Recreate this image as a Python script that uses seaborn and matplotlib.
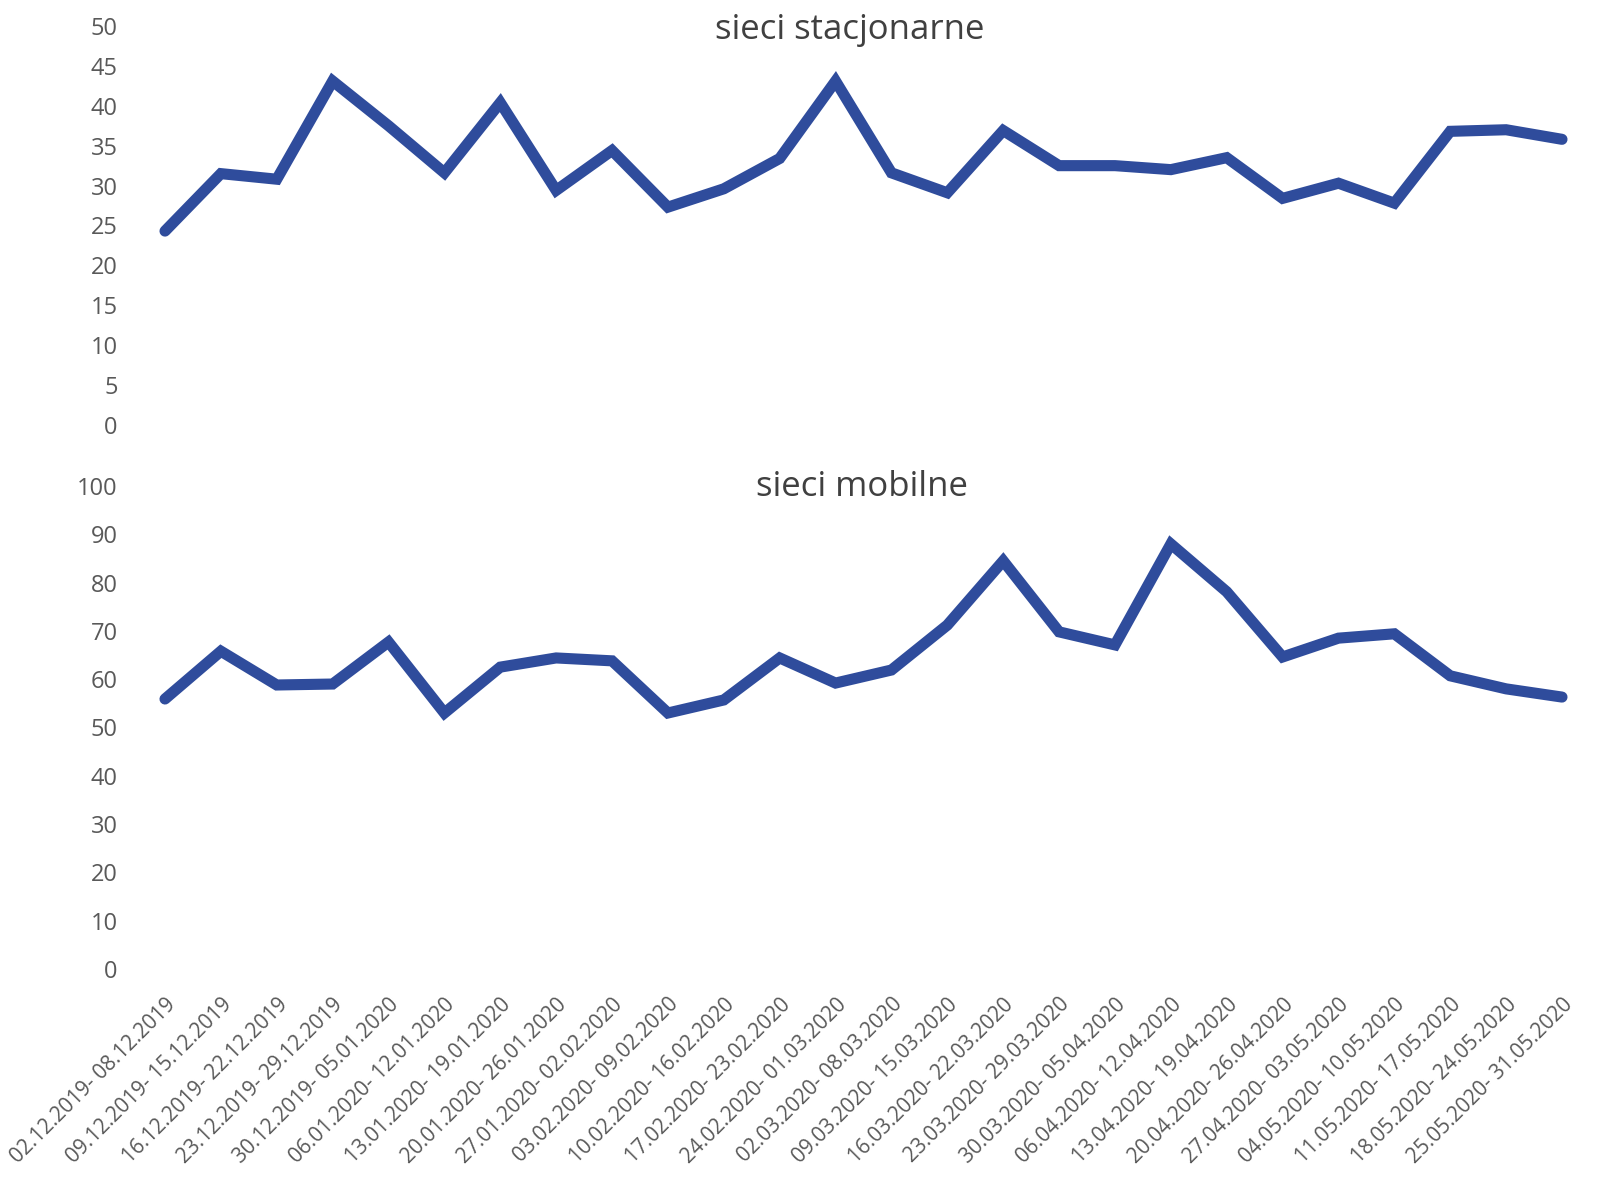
import pandas as pd
import matplotlib.pyplot as plt
import seaborn as sns
import numpy as np

# =============================================================================
# DATA - weekly values
# =============================================================================
weeks = [
    "02.12.2019- 08.12.2019", "09.12.2019- 15.12.2019", "16.12.2019- 22.12.2019",
    "23.12.2019- 29.12.2019", "30.12.2019- 05.01.2020", "06.01.2020- 12.01.2020",
    "13.01.2020- 19.01.2020", "20.01.2020- 26.01.2020", "27.01.2020- 02.02.2020",
    "03.02.2020- 09.02.2020", "10.02.2020- 16.02.2020", "17.02.2020- 23.02.2020",
    "24.02.2020- 01.03.2020", "02.03.2020- 08.03.2020", "09.03.2020- 15.03.2020",
    "16.03.2020- 22.03.2020", "23.03.2020- 29.03.2020", "30.03.2020- 05.04.2020",
    "06.04.2020- 12.04.2020", "13.04.2020- 19.04.2020", "20.04.2020- 26.04.2020",
    "27.04.2020- 03.05.2020", "04.05.2020- 10.05.2020", "11.05.2020- 17.05.2020",
    "18.05.2020- 24.05.2020", "25.05.2020- 31.05.2020",
]

stacjonarne = [24.3, 31.5, 30.8, 43.1, 37.5, 31.6, 40.4, 29.4, 34.4, 27.3,
               29.6, 33.4, 43.1, 31.6, 29.1, 36.9, 32.5, 32.5, 32.0, 33.5,
               28.4, 30.3, 27.8, 36.8, 37.0, 35.8]

mobilne = [55.9, 65.8, 58.8, 59.0, 67.7, 53.0, 62.5, 64.4, 63.8, 53.0,
           55.7, 64.4, 59.2, 61.9, 71.2, 84.5, 69.8, 67.1, 88.0, 78.1,
           64.6, 68.5, 69.4, 60.7, 58.0, 56.3]

# =============================================================================
# STYLE
# =============================================================================
sns.set_style('white')
plt.rcParams['font.family'] = ['Open Sans', 'DejaVu Sans']

LINE_COLOR = '#2f4c9c'
TICK_COLOR = '#595959'
TITLE_COLOR = '#404040'

W, H = 1606, 1181
fig = plt.figure(figsize=(W / 100, H / 100), dpi=100)

x_left = 165 / W
x_width = (1562 - 165) / W

# top panel: fixed-line networks
ax1 = fig.add_axes([x_left, 1 - 425 / H, x_width, (425 - 26) / H])
# bottom panel: mobile networks
ax2 = fig.add_axes([x_left, 1 - 969 / H, x_width, (969 - 486) / H])

df_top = pd.DataFrame({'week': weeks, 'value': stacjonarne})
df_bot = pd.DataFrame({'week': weeks, 'value': mobilne})

for ax, df, ymax, step, title, title_x, title_y in [
    (ax1, df_top, 50, 5, 'sieci stacjonarne', 850, 30),
    (ax2, df_bot, 100, 10, 'sieci mobilne', 862, 487),
]:
    sns.lineplot(data=df, x='week', y='value', sort=False, ax=ax,
                 color=LINE_COLOR, linewidth=8, solid_capstyle='round',
                 solid_joinstyle='miter', clip_on=False)
    ax.set_xlim(0, len(weeks) - 1)
    ax.set_ylim(0, ymax)
    ax.set_yticks(np.arange(0, ymax + 1, step))
    ax.tick_params(axis='y', labelsize=17, colors=TICK_COLOR, length=0, pad=34)
    ax.set_xlabel('')
    ax.set_ylabel('')
    sns.despine(ax=ax, left=True, bottom=True)
    ax.grid(False)
    fig.text(title_x / W, 1 - title_y / H, title,
             ha='center', va='center', fontsize=25, color=TITLE_COLOR)

ax1.set_xticks(range(len(weeks)))
ax1.set_xticklabels([])
ax1.tick_params(axis='x', length=0)

ax2.set_xticks(range(len(weeks)))
ax2.set_xticklabels(weeks, rotation=45, ha='right', rotation_mode='anchor',
                    fontsize=15, color=TICK_COLOR)
ax2.tick_params(axis='x', length=0, pad=18)

fig.savefig('out.png', dpi=100, facecolor='white')
